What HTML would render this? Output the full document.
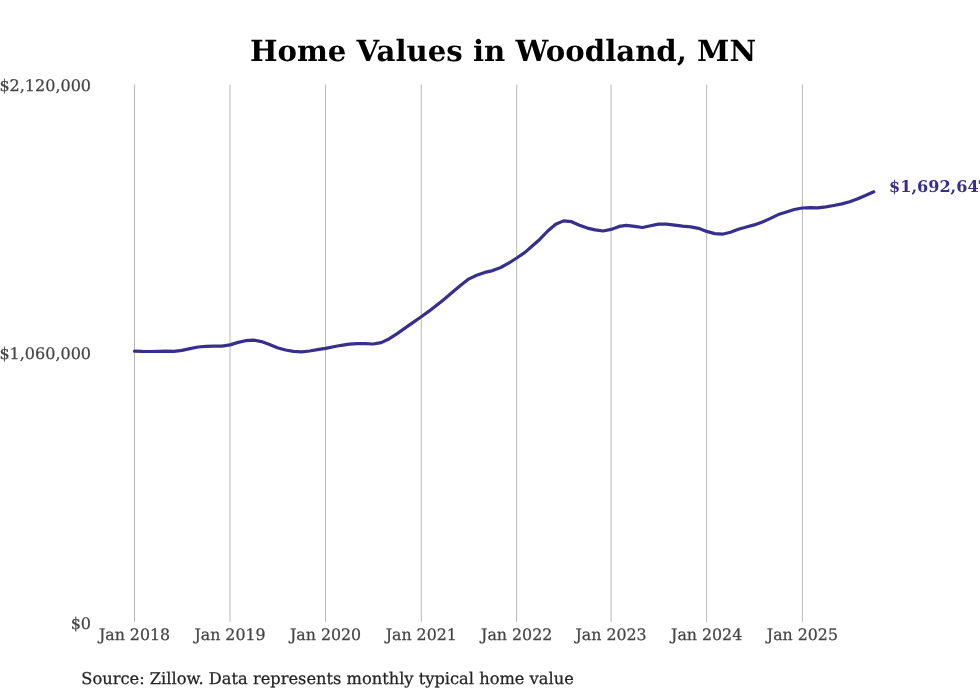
<!DOCTYPE html>
<html><head><meta charset="utf-8"><title>Home Values in Woodland, MN</title>
<style>
html,body{margin:0;padding:0;background:#fff;}
body{width:980px;height:699px;overflow:hidden;}
svg{display:block;font-family:"DejaVu Serif","Liberation Serif",serif;text-rendering:geometricPrecision;}
.title{font-weight:bold;font-size:29.2px;fill:#000;text-anchor:middle;}
.yl text{font-size:16px;fill:#444;stroke:#444;stroke-width:0.25;text-anchor:end;}
.xl text{font-size:15.8px;fill:#444;stroke:#444;stroke-width:0.25;text-anchor:middle;}
.src{font-size:16.25px;fill:#242424;stroke:#242424;stroke-width:0.25;}
.lab{font-size:16.1px;font-weight:bold;fill:#372f8b;}
.grid line{stroke:#b8b8b8;stroke-width:1.0;}
</style></head>
<body>
<svg width="980" height="699" viewBox="0 0 980 699">
<rect width="980" height="699" fill="#fff"/>
<text class="title" transform="translate(503.0 60.6)" x="0" y="0">Home Values in Woodland, MN</text>
<g class="grid"><line x1="134.50" x2="134.50" y1="84.5" y2="621.9"/><line x1="230.00" x2="230.00" y1="84.5" y2="621.9"/><line x1="325.55" x2="325.55" y1="84.5" y2="621.9"/><line x1="421.25" x2="421.25" y1="84.5" y2="621.9"/><line x1="516.70" x2="516.70" y1="84.5" y2="621.9"/><line x1="611.05" x2="611.05" y1="84.5" y2="621.9"/><line x1="706.65" x2="706.65" y1="84.5" y2="621.9"/><line x1="802.40" x2="802.40" y1="84.5" y2="621.9"/></g>
<g class="yl">
<text x="91.0" y="90.9">$2,120,000</text>
<text x="91.0" y="359.1">$1,060,000</text>
<text x="91.0" y="628.6">$0</text>
</g>
<g class="xl"><text x="134.50" y="640.0">Jan 2018</text><text x="230.00" y="640.0">Jan 2019</text><text x="325.55" y="640.0">Jan 2020</text><text x="421.25" y="640.0">Jan 2021</text><text x="516.70" y="640.0">Jan 2022</text><text x="611.05" y="640.0">Jan 2023</text><text x="706.65" y="640.0">Jan 2024</text><text x="802.40" y="640.0">Jan 2025</text></g>
<path d="M134.50,351.1 L142.61,351.4 L149.94,351.5 L158.05,351.3 L165.90,351.1 L174.01,351.4 L181.86,350.4 L189.97,348.6 L198.08,347.0 L205.93,346.3 L214.04,346.1 L221.89,346.1 L230.00,344.9 L238.12,342.4 L245.45,340.7 L253.56,340.1 L261.41,341.6 L269.53,344.5 L277.38,347.8 L285.50,350.0 L293.61,351.3 L301.47,351.8 L309.58,351.0 L317.43,349.7 L325.55,348.4 L333.66,346.8 L341.24,345.3 L349.34,344.2 L357.19,343.6 L365.29,343.7 L373.14,344.0 L381.24,342.6 L389.35,338.7 L397.19,333.6 L405.30,327.9 L413.14,322.4 L421.25,316.7 L429.36,310.9 L436.68,305.2 L444.79,298.7 L452.63,292.0 L460.74,285.2 L468.58,279.1 L476.69,275.2 L484.80,272.4 L492.64,270.6 L500.75,267.5 L508.59,263.2 L516.70,258.0 L524.71,252.6 L531.95,246.2 L539.96,239.2 L547.72,231.0 L555.73,224.2 L563.49,220.9 L571.50,221.7 L579.51,225.3 L587.27,228.1 L595.28,229.9 L603.04,231.0 L611.05,229.4 L619.17,226.4 L626.50,225.3 L634.62,226.4 L642.48,227.5 L650.60,225.7 L658.46,224.1 L666.58,224.1 L674.70,225.1 L682.55,226.2 L690.67,226.9 L698.53,228.3 L706.65,231.4 L714.76,233.6 L722.35,234.2 L730.46,232.2 L738.31,229.3 L746.42,227.0 L754.26,224.9 L762.37,222.0 L770.48,218.4 L778.33,214.6 L786.44,212.0 L794.29,209.5 L802.40,208.0 L810.51,207.6 L817.84,207.8 L825.95,206.9 L833.79,205.5 L841.90,203.9 L849.75,201.8 L857.86,198.8 L865.97,195.3 L873.82,191.8" fill="none" stroke="#372f8b" stroke-width="3.2" stroke-linejoin="round" stroke-linecap="round"/>
<text class="lab" x="889.0" y="192.2">$1,692,64<tspan dx="-1.0">7</tspan></text>
<text class="src" x="81.3" y="683.7">Source: Zillow. Data represents monthly typical home value</text>
</svg>
</body></html>
